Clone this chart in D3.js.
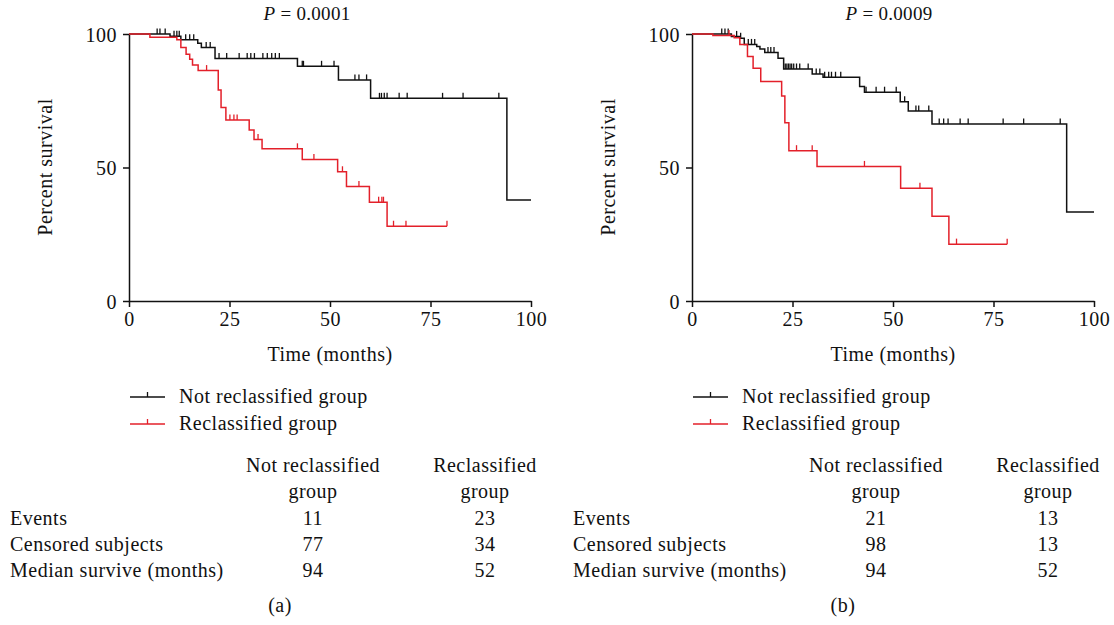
<!DOCTYPE html>
<html>
<head>
<meta charset="utf-8">
<script src="https://cdn.jsdelivr.net/npm/d3@7"></script>
<style>
  body { margin: 0; background: #fff; }
  svg text { font-family: "Liberation Serif", "Times New Roman", serif; fill: #111; font-size: 20px; letter-spacing: 0.5px; }
</style>
</head>
<body>
<svg id="chart" width="1114" height="625"></svg>
<script>
// ---- data ----
// panel (a)
var aNotTimes = [0, 10.2, 12.9, 17.1, 18, 21.4, 41.9, 52.1, 60.1, 94, 100];
var aNotSurv  = [100, 99.2, 97.8, 96.5, 94.9, 90.8, 87.9, 82.8, 75.9, 37.8, 37.8];
var aNotCens  = [7, 7.7, 9, 11.2, 11.9, 12.5, 14.1, 15.1, 16.1, 19.2, 20.2, 22.4, 24.3, 27.4, 29.4, 30.3, 31.2,
                 33.3, 34.4, 35.5, 36.4, 37.4, 43.1, 43.4, 47.9, 51, 56.2, 57.2, 59.1, 62.3, 62.8, 63.5, 64.2,
                 67.2, 69.2, 78, 83.1, 92];
var aReTimes  = [0, 5.2, 11.9, 12.9, 14.2, 15.1, 15.8, 17.2, 22.2, 22.9, 24.1, 29.9, 31.1, 33.1, 43.1, 51.9, 54.1, 59.8, 64.2, 79.1];
var aReSurv   = [100, 98.8, 97.8, 94.9, 92.4, 90.5, 88.4, 86.3, 79, 72.5, 67.8, 64, 60.5, 57, 53, 48.4, 42.9, 37, 28, 28];
var aReCens   = [19.3, 25.1, 26.1, 26.9, 32.1, 41.9, 46, 53.1, 57.2, 62.1, 62.9, 63.3, 65.8, 68.9, 79.1];
// panel (b)
var bNotTimes = [0, 9.8, 11.9, 13, 16.1, 16.9, 18.1, 21.4, 22.8, 29.9, 32.6, 41.7, 42.9, 51.8, 53.8, 59.7, 93.2, 100];
var bNotSurv  = [100, 99.1, 98.4, 96.1, 95.3, 94.4, 93.1, 90.9, 86.9, 85, 83.8, 80.3, 78.2, 74.6, 71.2, 66.3, 33.3, 33.3];
var bNotCens  = [7.4, 8.2, 9, 11.1, 12.1, 14, 14.8, 15.6, 18.9, 19.6, 20.4, 23.2, 23.6, 24, 24.4, 24.8, 25.3, 26,
                 26.8, 28.9, 30.9, 31.8, 33, 34, 34.7, 35.7, 37, 43.3, 45.8, 47.9, 50.8, 52.9, 55.7, 56.4, 58.9,
                 61.5, 62.6, 63.7, 66.7, 68.7, 77.4, 82.5, 91.6];
var bReTimes  = [0, 5.2, 10.5, 11.9, 13.8, 15.2, 17.1, 22.3, 23.1, 24.1, 31.1, 51.9, 59.7, 63.9, 78.4];
var bReSurv   = [100, 99.4, 98.6, 96.1, 91.6, 87.2, 82.2, 76.8, 66.8, 56.3, 50.4, 42.2, 31.7, 21.3, 21.3];
var bReCens   = [9.2, 26, 29.9, 42.9, 56.7, 65.8, 78.4];

var xTicks = [0, 25, 50, 75, 100];
var yTicks = [0, 50, 100];
var seriesNames = ["Not reclassified group", "Reclassified group"];
var colHeaders = [["Not reclassified", "group"], ["Reclassified", "group"]];
var rowLabels = ["Events", "Censored subjects", "Median survive (months)"];
var aTable = [[11, 23], [77, 34], [94, 52]];
var bTable = [[21, 13], [98, 13], [94, 52]];
var pValues = ["0.0001", "0.0009"];
var panelLabels = ["(a)", "(b)"];

var colBlack = "#111", colRed = "#e3202a";
var svg = d3.select("#chart");

function drawPanel(opt) {
  var g = svg.append("g").attr("transform", "translate(" + opt.dx + ",0)");
  var x = d3.scaleLinear().domain([0, 100]).range([129, 531]);
  var y = d3.scaleLinear().domain([0, 100]).range([301, 34]);

  // axes
  var yAxis = d3.axisLeft(y).tickValues(yTicks).tickSize(6).tickSizeOuter(0).tickPadding(6);
  var xAxis = d3.axisBottom(x).tickValues(xTicks).tickSize(6).tickSizeOuter(0).tickPadding(5);
  var ya = g.append("g").attr("transform", "translate(129,0)").call(yAxis);
  var xa = g.append("g").attr("transform", "translate(0,301)").call(xAxis);
  [ya, xa].forEach(function(a) {
    a.attr("font-size", null).attr("font-family", null);
    a.selectAll("path, line").attr("stroke", "#111").attr("stroke-width", 1.5);
    a.selectAll("text").attr("fill", "#111");
  });
  ya.selectAll("text").attr("dy", "0.35em");

  // curves
  var line = d3.line()
    .x(function(d) { return x(d[0]); })
    .y(function(d) { return y(d[1]); })
    .curve(d3.curveStepAfter);

  opt.curves.forEach(function(c) {
    var pts = c.times.map(function(t, i) { return [t, c.surv[i]]; });
    g.append("path").datum(pts)
      .attr("d", line)
      .attr("fill", "none")
      .attr("stroke", c.color)
      .attr("stroke-width", 1.5);
    // censor ticks
    var survAt = function(t) {
      var i = d3.bisectRight(c.times, t) - 1;
      return c.surv[Math.max(0, i)];
    };
    g.selectAll(null).data(c.cens).enter().append("line")
      .attr("x1", function(d) { return x(d); })
      .attr("x2", function(d) { return x(d); })
      .attr("y1", function(d) { return y(survAt(d)); })
      .attr("y2", function(d) { return y(survAt(d)) - 5.5; })
      .attr("stroke", c.color)
      .attr("stroke-width", 1.3);
  });

  // title
  var t = svg.append("text").attr("x", opt.titleX).attr("y", 20)
    .attr("text-anchor", "middle").style("font-size", "19px").style("letter-spacing", "0.3px");
  t.append("tspan").style("font-style", "italic").text("P");
  t.append("tspan").text(" = " + opt.p);

  // axis titles
  g.append("text")
    .attr("transform", "translate(52,167) rotate(-90)")
    .attr("text-anchor", "middle")
    .text("Percent survival");
  g.append("text").attr("x", 330).attr("y", 361)
    .attr("text-anchor", "middle")
    .text("Time (months)");

  // legend
  var leg = g.selectAll(".leg").data(opt.curves).enter().append("g")
    .attr("transform", function(d, i) { return "translate(0," + (397 + i * 27) + ")"; });
  leg.append("line").attr("x1", 130).attr("x2", 165).attr("y1", 0).attr("y2", 0)
    .attr("stroke", function(d) { return d.color; }).attr("stroke-width", 1.5);
  leg.append("line").attr("x1", 147.5).attr("x2", 147.5).attr("y1", 0).attr("y2", -5)
    .attr("stroke", function(d) { return d.color; }).attr("stroke-width", 1.3);
  leg.append("text").attr("x", 179).attr("y", 6)
    .text(function(d, i) { return seriesNames[i]; });

  // table
  var cols = [313, 485];
  colHeaders.forEach(function(h, ci) {
    h.forEach(function(s, li) {
      g.append("text").attr("x", cols[ci]).attr("y", 472 + li * 26)
        .attr("text-anchor", "middle").text(s);
    });
  });
  rowLabels.forEach(function(r, ri) {
    g.append("text").attr("x", 10).attr("y", 525 + ri * 26).text(r);
    opt.table[ri].forEach(function(v, ci) {
      g.append("text").attr("x", cols[ci]).attr("y", 525 + ri * 26)
        .attr("text-anchor", "middle").text(v);
    });
  });

  svg.append("text").attr("x", opt.labelX).attr("y", 612)
    .attr("text-anchor", "middle").text(opt.label);
}

drawPanel({
  dx: 0, titleX: 307, labelX: 280, p: pValues[0], label: panelLabels[0], table: aTable,
  curves: [
    { times: aNotTimes, surv: aNotSurv, cens: aNotCens, color: colBlack },
    { times: aReTimes, surv: aReSurv, cens: aReCens, color: colRed }
  ]
});
drawPanel({
  dx: 563, titleX: 889, labelX: 843, p: pValues[1], label: panelLabels[1], table: bTable,
  curves: [
    { times: bNotTimes, surv: bNotSurv, cens: bNotCens, color: colBlack },
    { times: bReTimes, surv: bReSurv, cens: bReCens, color: colRed }
  ]
});
</script>
</body>
</html>
